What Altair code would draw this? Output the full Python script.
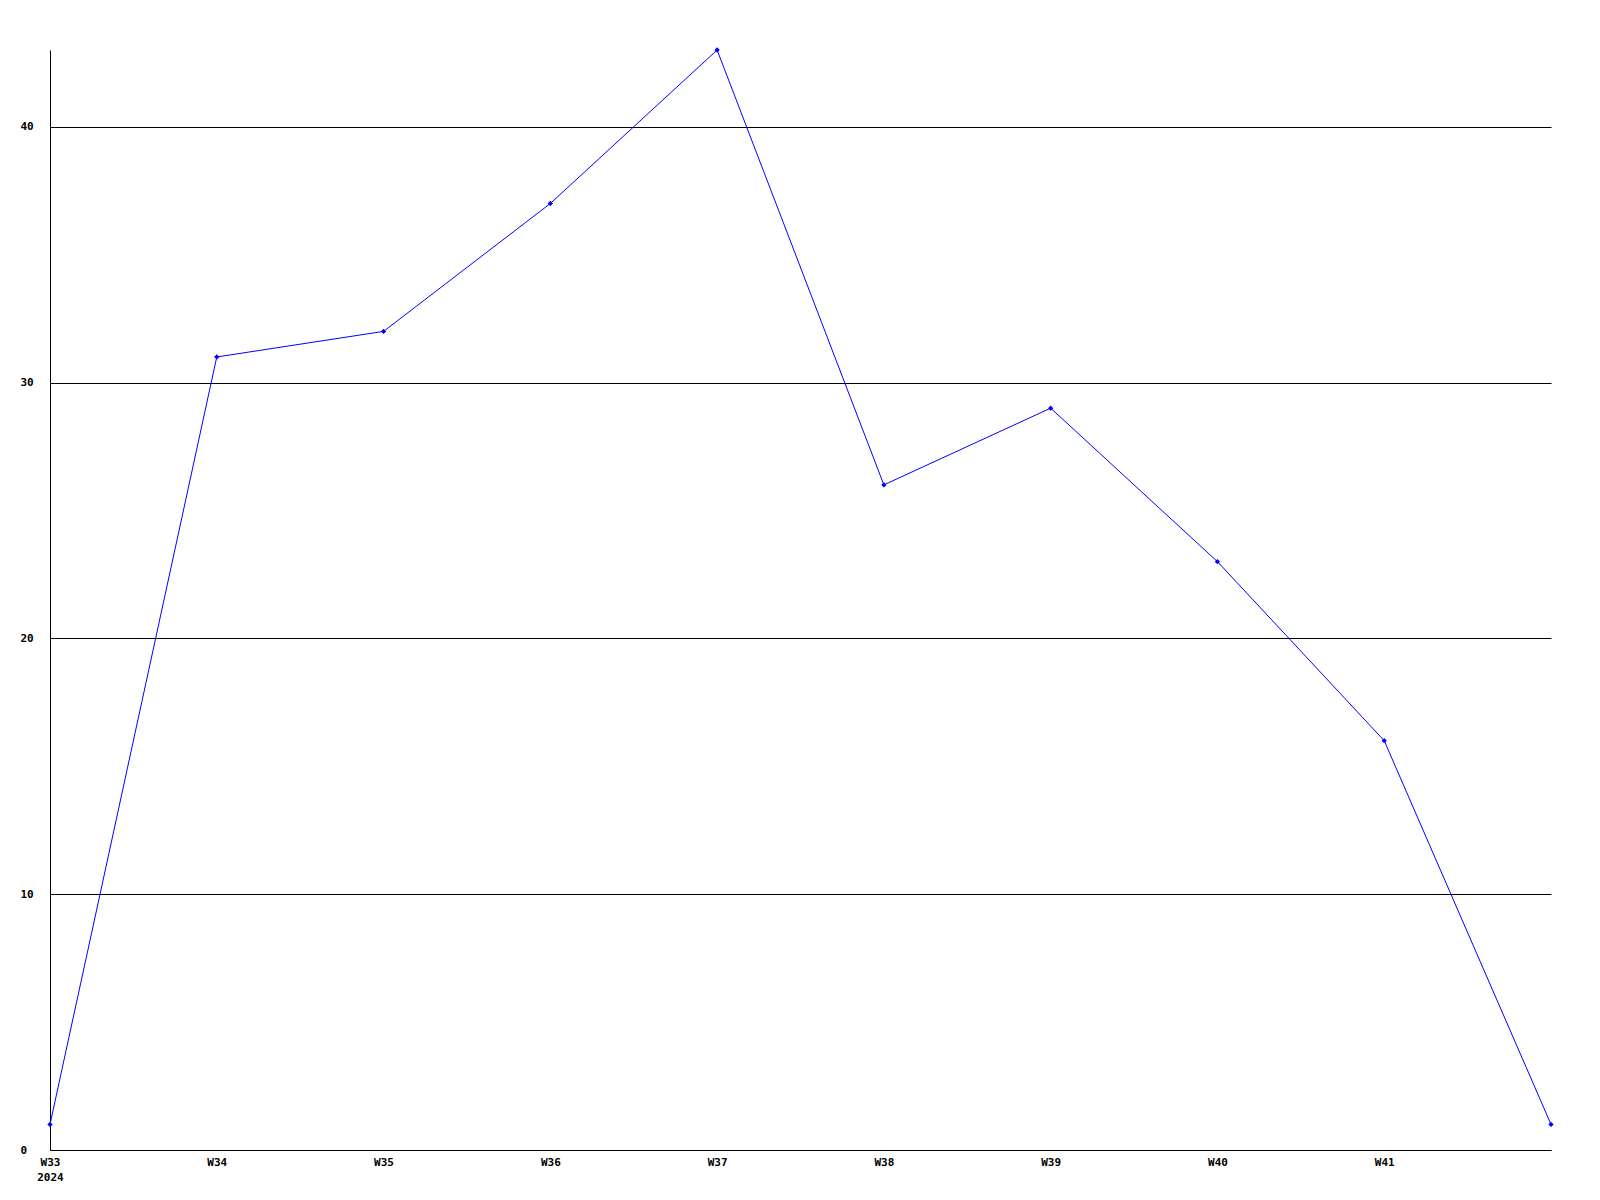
import altair as alt
import pandas as pd

weeks = ["W33", "W34", "W35", "W36", "W37", "W38", "W39", "W40", "W41", "W42"]
values = [1, 31, 32, 37, 43, 26, 29, 23, 16, 1]

df = pd.DataFrame({"week": weeks, "value": values})

font = "DejaVu Sans Mono"

chart = alt.Chart(df).mark_line(
    color="#0000FF", strokeWidth=1,
    point=alt.OverlayMarkDef(shape="diamond", size=28, filled=True, color="#0000FF")
).encode(
    x=alt.X("week:O", sort=weeks, scale=alt.Scale(type="point", padding=0),
            axis=alt.Axis(title=None, labelAngle=0, ticks=False, grid=False,
                          domainColor="black", labelFont=font, labelFontWeight="bold",
                          labelFontSize=11, labelColor="black", labelPadding=6,
                          labelLineHeight=15,
                          labelExpr="datum.value == 'W42' ? '' : (datum.value == 'W33' ? ['W33', '2024'] : datum.value)")),
    y=alt.Y("value:Q", scale=alt.Scale(domain=[0, 43], nice=False),
            axis=alt.Axis(title=None, values=[0, 10, 20, 30, 40], ticks=False,
                          grid=True, gridColor="black", gridOpacity=1, gridWidth=1,
                          domainColor="black", labelFont=font, labelFontWeight="bold",
                          labelFontSize=11, labelColor="black", labelAlign="left",
                          labelPadding=30)),
).properties(
    width=1501, height=1100,
    background="white",
    autosize=alt.AutoSizeParams(type="none"),
    padding={"left": 42, "top": 42, "right": 30, "bottom": 50},
).configure_view(stroke=None, strokeWidth=0)

chart.save("out.html", embed_options={"renderer": "svg", "actions": False})
